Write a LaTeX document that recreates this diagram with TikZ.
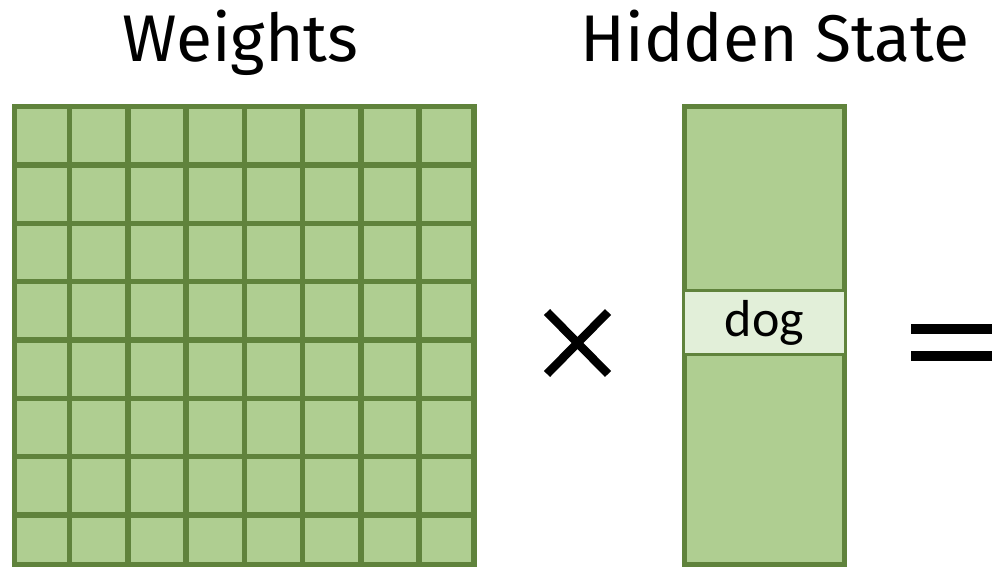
\documentclass[tikz,border=0pt]{standalone}
\usepackage{fontspec}
\setmainfont{Fira Sans}
\newfontfamily\dogfont{Carlito}
\definecolor{cellfill}{RGB}{175,206,145}
\definecolor{celldraw}{RGB}{96,131,60}
\definecolor{dogfill}{RGB}{226,239,217}
\tikzset{
  gridline/.style={draw=celldraw, line width=5.5pt},
  title/.style={anchor=base, inner sep=0pt, font=\fontsize{66}{72}\selectfont},
  opline/.style={line width=8.5pt, black},
}
\begin{document}
\begin{tikzpicture}[x=1pt,y=-1pt]
\useasboundingbox (0,0) rectangle (992,567);
% titles
\node[title] (wt) at (240.5,62) {Weights};
\node[title] (hs) at (775,62) {Hidden State};
% weights matrix
\fill[cellfill] (14.5,106.5) rectangle (474,564.5);
\foreach \k in {0,...,6} {
  \draw[gridline] ({69.5+58.25*\k},106.5) -- ({69.5+58.25*\k},564.5);
  \draw[gridline] (14.5,{165+58.33*\k}) -- (474,{165+58.33*\k});
}
\draw[gridline] (14.5,106.5) rectangle (474,564.5);
% multiplication sign
\coordinate (xa) at (547,312);
\coordinate (xb) at (608,374);
\coordinate (xc) at (608,312);
\coordinate (xd) at (547,374);
\draw[opline] (xa) -- (xb);
\draw[opline] (xc) -- (xd);
% hidden state vector
\draw[gridline, fill=cellfill] (684.5,106.5) rectangle (844.5,564.5);
\node[draw=celldraw, line width=2.5pt, fill=dogfill, minimum width=162pt, minimum height=64pt, inner sep=0pt,
  font=\dogfont\fontsize{52}{56}\selectfont] (dog) at (764.5,322.5) {dog};
% equals sign
\coordinate (e1a) at (911,329);
\coordinate (e1b) at (992,329);
\coordinate (e2a) at (911,356);
\coordinate (e2b) at (992,356);
\draw[line width=10pt, black] (e1a) -- (e1b);
\draw[line width=10pt, black] (e2a) -- (e2b);
\end{tikzpicture}
\end{document}
